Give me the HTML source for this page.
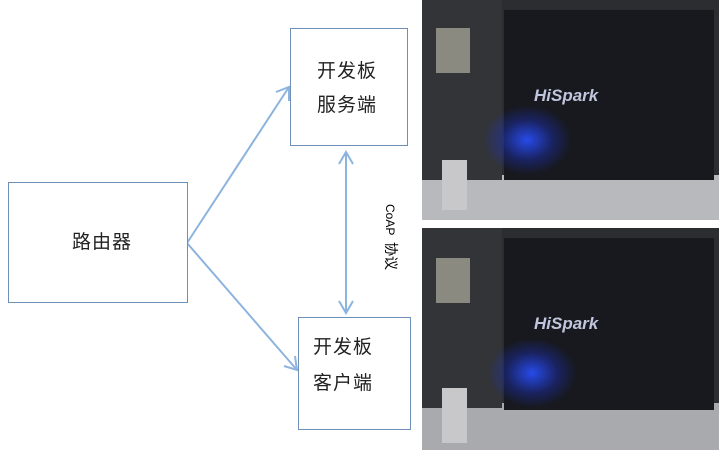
<!DOCTYPE html>
<html><head><meta charset="utf-8"><style>
body{margin:0;width:724px;height:455px;background:#fff;position:relative;overflow:hidden;font-family:"Liberation Sans","Noto Sans CJK SC",sans-serif}
.box{position:absolute;border:1.5px solid #6e8fb8;box-sizing:border-box;background:#fff;color:#222;font-size:19px;letter-spacing:1px}
.ph{position:absolute;left:422px;width:297px;overflow:hidden;background:#2b2d31}
</style></head><body>
<svg width="724" height="455" style="position:absolute;left:0;top:0">
<g stroke="#8db4de" stroke-width="2" fill="none">
<line x1="187" y1="243" x2="289" y2="87"/>
<polyline points="276,92 289,87 289,101"/>
<line x1="187" y1="243" x2="297" y2="370"/>
<polyline points="284,366 297,370 295,356"/>
<line x1="346" y1="153" x2="346" y2="312"/>
<polyline points="339,164 346,152 353,164"/>
<polyline points="339,301 346,313 353,301"/>
</g>
<text x="0" y="0" transform="translate(386,204) rotate(90)" font-size="12" fill="#000" font-family="Liberation Sans">CoAP</text>
<text x="0" y="0" transform="translate(386,242) rotate(90)" font-size="14" fill="#000" font-family="Noto Sans CJK SC">协议</text>
</svg>
<div class="box" style="left:8px;top:182px;width:180px;height:121px;line-height:119px;padding-left:63px">路由器</div>
<div class="box" style="left:290px;top:28px;width:118px;height:118px;padding:26px 0 0 26px;line-height:34px">开发板<br>服务端</div>
<div class="box" style="left:298px;top:317px;width:113px;height:113px;padding:12px 0 0 14px;line-height:36px">开发板<br>客户端</div>

<div class="ph" style="top:0;height:220px">
 <div style="position:absolute;left:0;top:175px;width:297px;height:45px;background:#b8b9bd"></div>
 <div style="position:absolute;left:0;top:0;width:80px;height:180px;background:#323438"></div>
 <div style="position:absolute;left:82px;top:10px;width:210px;height:170px;background:#17191e"></div>
 <div style="position:absolute;left:14px;top:28px;width:34px;height:45px;background:#8a8a80"></div>
 <div style="position:absolute;left:20px;top:160px;width:25px;height:50px;background:#c8c8ca"></div>
 <div style="position:absolute;left:60px;top:105px;width:90px;height:70px;background:radial-gradient(ellipse at 50% 50%,rgba(40,80,255,.9),rgba(30,50,200,.4) 40%,rgba(0,0,0,0) 70%)"></div>
 <div style="position:absolute;left:112px;top:86px;color:#c0c6dd;font:bold italic 17px 'Liberation Sans'">HiSpark</div>
</div>
<div class="ph" style="top:228px;height:222px">
 <div style="position:absolute;left:0;top:175px;width:297px;height:47px;background:#a9aaae"></div>
 <div style="position:absolute;left:0;top:0;width:80px;height:180px;background:#323438"></div>
 <div style="position:absolute;left:82px;top:10px;width:210px;height:172px;background:#17191e"></div>
 <div style="position:absolute;left:14px;top:30px;width:34px;height:45px;background:#8a8a80"></div>
 <div style="position:absolute;left:20px;top:160px;width:25px;height:55px;background:#c8c8ca"></div>
 <div style="position:absolute;left:65px;top:110px;width:90px;height:70px;background:radial-gradient(ellipse at 50% 50%,rgba(40,80,255,.9),rgba(30,50,200,.4) 40%,rgba(0,0,0,0) 70%)"></div>
 <div style="position:absolute;left:112px;top:86px;color:#c0c6dd;font:bold italic 17px 'Liberation Sans'">HiSpark</div>
</div>
</body></html>
